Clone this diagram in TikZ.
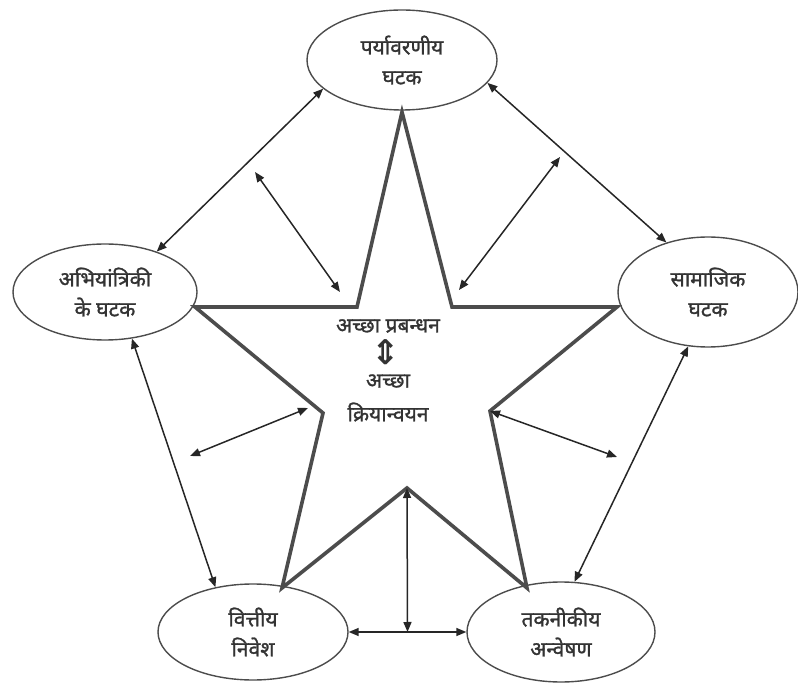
\documentclass[tikz,border=0pt]{standalone}
\usepackage{fontspec}
\newfontfamily\hindi[Script=Devanagari, FakeBold=1.2]{Noto Sans}
\newfontfamily\symb{DejaVu Sans}
\usetikzlibrary{positioning, arrows.meta, shapes.geometric, calc}

\begin{document}
\begin{tikzpicture}[
  x=1pt, y=-1pt,
  factor/.style={ellipse, draw=black!70, line width=1.4pt, inner sep=0pt,
                 minimum width=190pt, minimum height=100pt, align=center,
                 font=\hindi\fontsize{21}{30}\selectfont, text=black!80},
  hitext/.style={font=\hindi\fontsize{21}{22}\selectfont, text=black!80, inner sep=1pt},
  link/.style={{Triangle[length=10pt,width=8pt]}-{Triangle[length=10pt,width=8pt]},
               line width=1.5pt, black!85},
  starline/.style={line width=3.6pt, black!70, line join=miter}
]
  \useasboundingbox (0,0) rectangle (798,684);

  % the five factors
  \node[factor] (env) at (402,60) {पर्यावरणीय\\घटक};
  \node[factor, minimum width=184pt, minimum height=96pt] (eng) at (105,292) {अभियांत्रिकी\\के घटक};
  \node[factor, minimum width=180pt, minimum height=110pt] (soc) at (708,292) {सामाजिक\\घटक};
  \node[factor, minimum height=96pt] (fin) at (253,632) {वित्तीय\\निवेश};
  \node[factor, minimum width=188pt] (tech) at (561,632) {तकनीकीय\\अन्वेषण};

  % star corners
  \coordinate (s1) at (402,112);
  \coordinate (i1) at (452,307);
  \coordinate (s2) at (617,307);
  \coordinate (i2) at (490,411);
  \coordinate (s3) at (527,588);
  \coordinate (i3) at (407,488);
  \coordinate (s4) at (282,588);
  \coordinate (i4) at (323,413);
  \coordinate (s5) at (195,307);
  \coordinate (i5) at (357,307);
  \draw[starline] (s1) -- (i1) -- (s2) -- (i2) -- (s3) -- (i3) -- (s4)
    -- (i4) -- (s5) -- (i5) -- cycle;

  % centre
  \node[hitext] (plan) at (388,326) {अच्छा प्रबन्धन};
  \node[font=\symb\bfseries\fontsize{34}{34}\selectfont, text=black!80, inner sep=0pt] (both) at (386,352) {⇕};
  \node[hitext] (good) at (388,381) {अच्छा};
  \node[hitext] (doing) at (388,412) {क्रियान्वयन};

  % free ends of the inner arrows
  \coordinate (ul) at (255,172);
  \coordinate (ulin) at (340,292);
  \coordinate (ur) at (560,157);
  \coordinate (urin) at (459,290);
  \coordinate (ll) at (190,456);
  \coordinate (llin) at (308,408);
  \coordinate (lr) at (617,457);
  \coordinate (mid) at ($(fin.east)!0.5!(tech.west)$);

  \draw[link] (env.200) -- (eng.38);
  \draw[link] (env.345) -- (soc.130);
  \draw[link] (eng.300) -- (fin.130);
  \draw[link] (soc.250) -- (tech.75);
  \draw[link] (fin.east) -- (tech.west);

  \draw[link] (ul) -- (ulin);
  \draw[link] (urin) -- (ur);
  \draw[link] (llin) -- (ll);
  \draw[link] (i2) -- (lr);
  \draw[link] (i3) -- (mid);
\end{tikzpicture}
\end{document}
